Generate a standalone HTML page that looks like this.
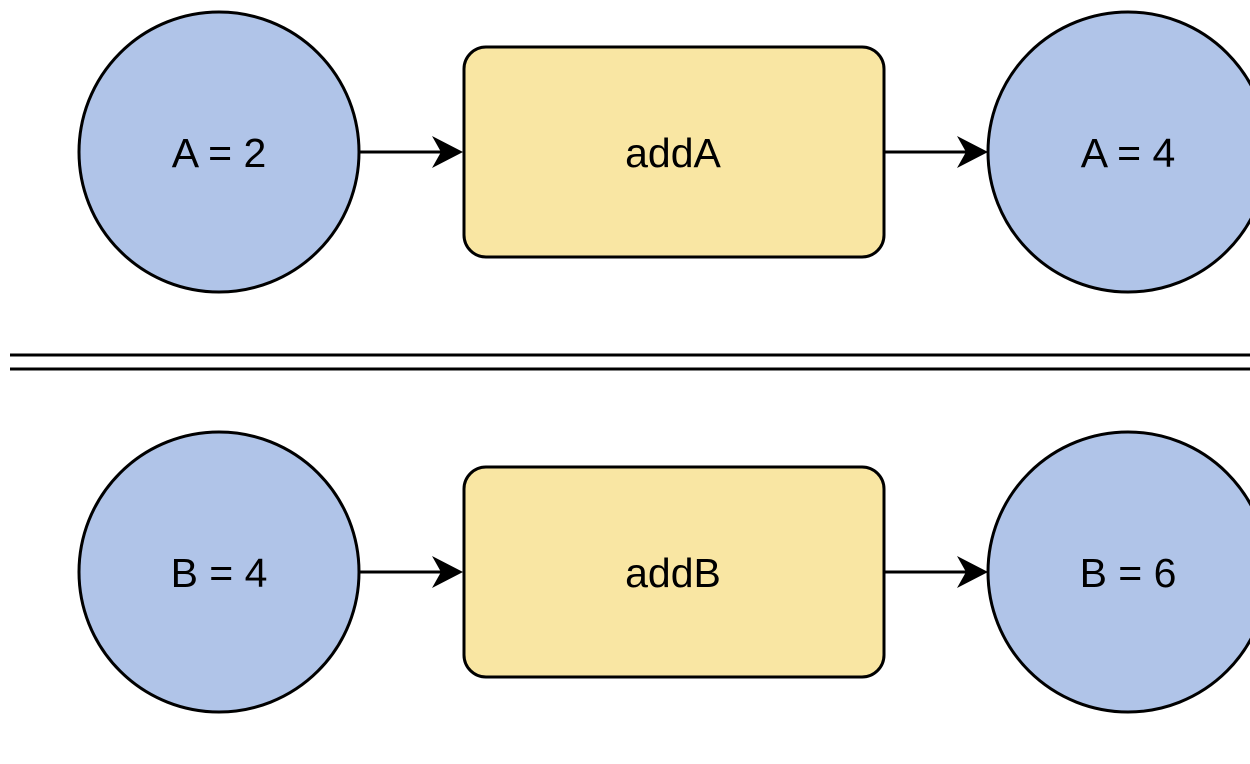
<!DOCTYPE html>
<html><head><style>body{margin:0;background:#fff}svg{display:block}</style></head><body>
<svg width="1250" height="764" xmlns="http://www.w3.org/2000/svg" font-family="Liberation Sans, Arial, sans-serif" font-size="41">
<g stroke="#000" stroke-width="3">
<circle cx="219" cy="152" r="140" fill="#b0c4e8"/>
<circle cx="1128" cy="152" r="140" fill="#b0c4e8"/>
<rect x="464" y="47" width="420" height="210" rx="22" fill="#f9e6a3"/>
<circle cx="219" cy="572" r="140" fill="#b0c4e8"/>
<circle cx="1128" cy="572" r="140" fill="#b0c4e8"/>
<rect x="464" y="467" width="420" height="210" rx="22" fill="#f9e6a3"/>
<line x1="360" y1="152" x2="445" y2="152"/>
<line x1="885" y1="152" x2="970" y2="152"/>
<line x1="360" y1="572" x2="445" y2="572"/>
<line x1="885" y1="572" x2="970" y2="572"/>
<line x1="10" y1="355" x2="1250" y2="355"/>
<line x1="10" y1="369" x2="1250" y2="369"/>
</g>
<g fill="#000">
<path d="M463 152 L432 136 L441 152 L432 168Z"/>
<path d="M988 152 L957 136 L966 152 L957 168Z"/>
<path d="M463 572 L432 556 L441 572 L432 588Z"/>
<path d="M988 572 L957 556 L966 572 L957 588Z"/>
</g>
<g text-anchor="middle" fill="#000">
<text x="219" y="167">A = 2</text>
<text x="1128" y="167">A = 4</text>
<text x="673" y="167">addA</text>
<text x="219" y="587">B = 4</text>
<text x="1128" y="587">B = 6</text>
<text x="673" y="587">addB</text>
</g>
</svg>
</body></html>
